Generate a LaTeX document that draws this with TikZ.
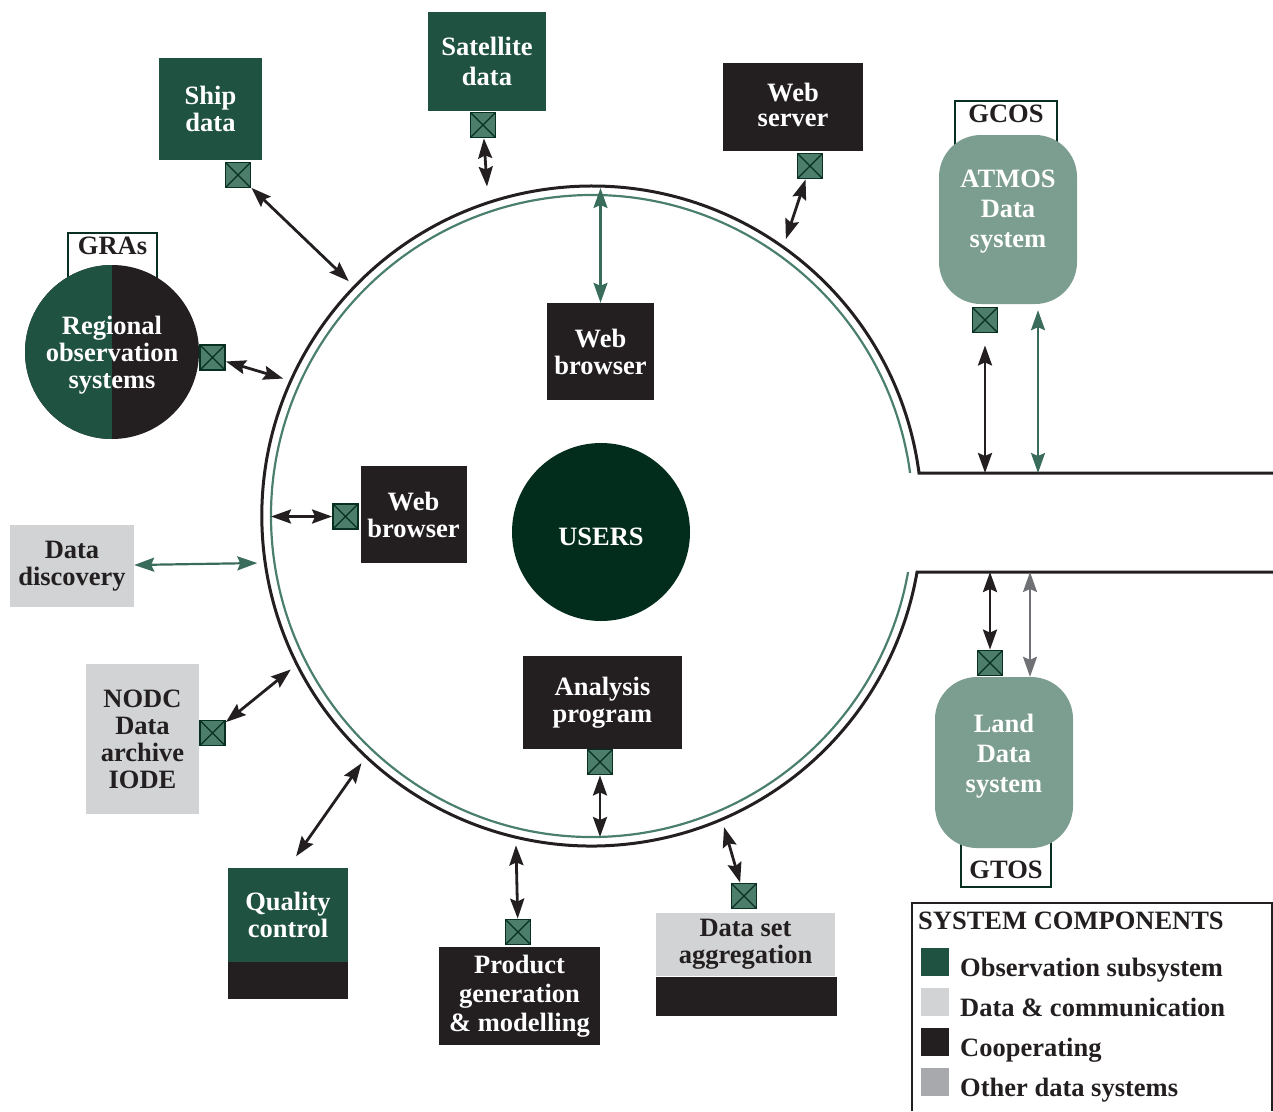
\documentclass[tikz,border=0pt]{standalone}
\usepackage{fontspec}
\setmainfont{Liberation Serif}
\usetikzlibrary{positioning,arrows.meta,calc}

\definecolor{obsgreen}{RGB}{31,82,65}
\definecolor{usersgreen}{RGB}{2,44,28}
\definecolor{coopblack}{RGB}{35,31,32}
\definecolor{datagray}{RGB}{209,211,212}
\definecolor{othergray}{RGB}{167,169,172}
\definecolor{sysgreen}{RGB}{124,158,144}
\definecolor{plugfill}{RGB}{77,125,107}
\definecolor{plugline}{RGB}{8,48,33}
\definecolor{ringgreen}{RGB}{74,127,109}
\definecolor{linkgreen}{RGB}{58,108,92}
\definecolor{linkgray}{RGB}{112,113,116}

\tikzset{
obsnode/.style={rectangle, fill=obsgreen, text=white, align=center, inner sep=0pt},
coopnode/.style={rectangle, fill=coopblack, text=white, align=center, inner sep=0pt},
datanode/.style={rectangle, fill=datagray, text=coopblack, align=center, inner sep=0pt},
sysnode/.style={rectangle, rounded corners=42pt, fill=sysgreen, text=white, align=center,
                inner sep=0pt, minimum width=138pt, text depth=22pt},
tagnode/.style={rectangle, draw=plugline, line width=1.6pt, fill=white, text=coopblack, inner sep=3pt},
plug/.style={rectangle, draw=plugline, line width=1.8pt, fill=plugfill, minimum size=25pt, inner sep=0pt,
   path picture={\draw[plugline, line width=1.3pt]
      (path picture bounding box.south west) -- (path picture bounding box.north east)
      (path picture bounding box.north west) -- (path picture bounding box.south east);}},
swatch/.style={rectangle, minimum size=28pt, inner sep=0pt},
legtext/.style={anchor=base west, text=coopblack, inner sep=0pt},
link/.style={<->, line width=2.8pt, draw=coopblack},
greenlink/.style={link, line width=2.2pt, draw=linkgreen},
graylink/.style={link, line width=2.2pt, draw=linkgray},
>={Stealth[length=20pt, width=14pt, inset=3pt]}
}

\begin{document}
\begin{tikzpicture}[x=1pt, y=1pt, font=\fontsize{26.5}{27}\selectfont\bfseries]
\useasboundingbox (0,0) rectangle (1273,-1111);

%Ring around the users
\node[circle, minimum size=660pt, inner sep=0pt, outer sep=8pt] (ring) at (592,-516) {};
\node[circle, minimum size=642pt, inner sep=0pt, outer sep=0pt] (inring) at (592,-516) {};
\coordinate (gapN) at (919,-473);
\coordinate (gapS) at (917,-572);
\draw[coopblack, line width=3pt] (1273,-473) -- (gapN) arc[start angle=7.49, end angle=350.23, radius=330] -- (1273,-572);
\draw[ringgreen, line width=2.2pt] (ring.center) ++(7.7:321) arc[start angle=7.7, end angle=349.95, radius=321];

\node[circle, fill=usersgreen, text=white, minimum size=178pt, inner sep=0pt, text height=28pt] (users) at (601,-532) {USERS};

%Outer components
\node[obsnode, minimum width=103pt, minimum height=102pt] (ship) at (210.5,-109) {Ship\\data};
\node[obsnode, minimum width=118pt, minimum height=99pt] (satellite) at (487,-61.5) {Satellite\\[3pt]data};
\node[coopnode, minimum width=140pt, minimum height=88pt, text depth=4pt] (webserver) at (793,-107) {Web\\[-2pt]server};

\node[tagnode, anchor=north, minimum width=89pt, text height=19pt, text depth=30pt] (gras) at (112.5,-232) {GRAs};
\node[circle, fill=coopblack, text=white, align=center, minimum size=174pt, inner sep=0pt, text depth=0pt,
  path picture={\fill[obsgreen] (path picture bounding box.south west) rectangle (path picture bounding box.north);}]
  (regional) at (112,-352) {Regional\\observation\\systems};

\node[datanode, minimum width=124pt, minimum height=82pt] (discovery) at (72,-566) {Data\\discovery};
\node[datanode, minimum width=113pt, minimum height=150pt] (nodc) at (142.5,-739) {NODC\\Data\\archive\\IODE};

\node[obsnode, minimum width=120pt, minimum height=94pt] (quality) at (288,-915) {Quality\\control};
\node[coopnode, minimum width=120pt, minimum height=37pt] (qualitybase) at (288,-980.5) {};
\node[coopnode, minimum width=161pt, minimum height=98pt] (product) at (519.5,-996) {Product\\[2pt]generation\\[2pt]\& modelling};
\node[datanode, minimum width=179pt, minimum height=63pt] (dataset) at (745.5,-944.5) {Data set\\aggregation};
\node[coopnode, minimum width=181pt, minimum height=39pt] (datasetbase) at (746.5,-996.5) {};

%Inner components
\node[coopnode, minimum width=107pt, minimum height=97pt] (wbtop) at (600.5,-351.5) {Web\\browser};
\node[coopnode, minimum width=106pt, minimum height=97pt] (wbleft) at (413.5,-514.5) {Web\\browser};
\node[coopnode, minimum width=159pt, minimum height=93pt] (analysis) at (602.5,-702.5) {Analysis\\program};

%Other data systems
\node[tagnode, anchor=north, minimum width=102pt, text height=19pt, text depth=24pt] (gcos) at (1006,-100) {GCOS};
\node[sysnode, minimum height=169pt] (atmos) at (1008,-219.5) {ATMOS\\[3pt]Data\\[3pt]system};
\node[tagnode, anchor=south, minimum width=90pt, text height=40pt, text depth=6pt] (gtos) at (1006,-888) {GTOS};
\node[sysnode, minimum height=171pt, text depth=18pt] (land) at (1004,-762.5) {Land\\[3pt]Data\\[3pt]system};

%Plugs
\node[plug] (shipplug) at (238,-175) {};
\node[plug] (satplug) at (483,-125) {};
\node[plug] (wsplug) at (810,-166) {};
\node[plug] (regplug) at (212.5,-357.5) {};
\node[plug] (wblplug) at (345.5,-516.5) {};
\node[plug] (nodcplug) at (212.5,-733) {};
\node[plug] (prodplug) at (518,-932) {};
\node[plug] (anplug) at (600,-762) {};
\node[plug] (dsplug) at (744,-896) {};
\node[plug] (atmplug) at (985,-320) {};
\node[plug] (landplug) at (990,-663) {};

%Links to the ring
\draw[link] (shipplug) -- (ring.136.5);
\draw[link, shorten >=8pt] (satplug) -- (ring.108);
\draw[link] (wsplug) -- (ring.55);
\draw[link] (regplug) -- (ring.156.4);
\draw[greenlink] (discovery) -- (ring.188.3);
\draw[link] (nodcplug) -- (ring.207.9);
\draw[link, shorten <=14pt] (quality.north) -- (ring.227.6);
\draw[link] (prodplug) -- (ring.257.5);
\draw[link] (dsplug) -- (ring.293.2);

\draw[greenlink, shorten >=-7pt] (wbtop.north) -- (wbtop.north |- inring.north);
\draw[link] (wblplug.west) -- (wblplug.west -| inring.west);
\draw[link] (anplug.south) -- (anplug.south |- inring.south);

\draw[link, shorten <=12pt] (atmplug.south) -- (atmplug.south |- gapN);
\draw[greenlink, shorten <=6pt] ([xshift=30pt]atmos.south) -- ([xshift=30pt]atmos.south |- gapN);
\draw[link] (landplug.north) -- (landplug.north |- gapS);
\draw[graylink] ([xshift=26pt]land.north) -- ([xshift=26pt]land.north |- gapS);

%Legend
\draw[coopblack, line width=1.6pt] (912,-1111) |- (1272,-903) -- (1272,-1111);
\node[legtext] (legtitle) at (918,-929) {SYSTEM COMPONENTS};
\node[swatch, fill=obsgreen] (swobs) at (935,-962) {};
\node[swatch, fill=datagray] (swdata) at (935,-1002) {};
\node[swatch, fill=coopblack] (swcoop) at (935,-1042) {};
\node[swatch, fill=othergray] (swother) at (935,-1082) {};
\node[legtext] (legobs) at (960,-976) {Observation subsystem};
\node[legtext] (legdata) at (960,-1016) {Data \& communication};
\node[legtext] (legcoop) at (960,-1056) {Cooperating};
\node[legtext] (legother) at (960,-1096) {Other data systems};
\end{tikzpicture}
\end{document}
